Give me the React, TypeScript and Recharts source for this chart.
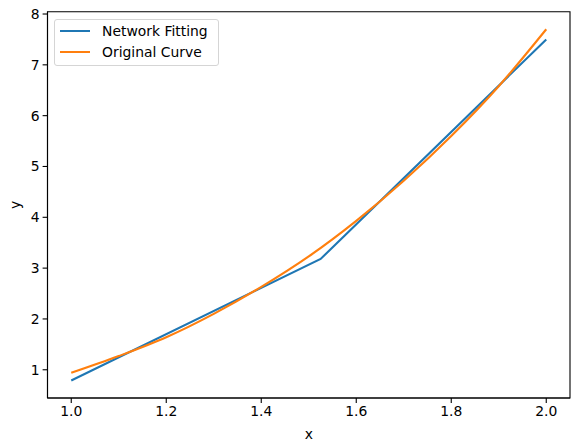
import { LineChart, Line, XAxis, YAxis, Legend, ReferenceArea } from "recharts";

// values
const fitX = [1.0, 1.525, 2.0];
const fitY = [0.79, 3.18, 7.5];

const origX = [1.0, 1.1, 1.2, 1.3, 1.4, 1.5, 1.6, 1.7, 1.8, 1.9, 2.0];
const origY = [0.94, 1.27, 1.64, 2.1, 2.63, 3.23, 3.93, 4.72, 5.6, 6.58, 7.7];

const xTicks = [1.0, 1.2, 1.4, 1.6, 1.8, 2.0];
const yTicks = [1, 2, 3, 4, 5, 6, 7, 8];

const fitData = fitX.map((x, i) => ({ x, y: fitY[i] }));
const origData = origX.map((x, i) => ({ x, y: origY[i] }));

const FONT = "'DejaVu Sans', sans-serif";
const FS = 13.9;

// matplotlib style 5% margins
const allY = [...fitY, ...origY];
const yMin = Math.min(...allY);
const yMax = Math.max(...allY);
const yPad = (yMax - yMin) * 0.05;
const yDomain = [yMin - yPad, yMax + yPad];
const xDomain = [0.95, 2.05];

function LegendBox(props: any) {
  const payload = props.payload || [];
  return (
    <div
      style={{
        width: 163,
        height: 45,
        border: "1px solid #d5d5d5",
        borderRadius: 3,
        background: "rgba(255,255,255,0.8)",
        fontFamily: FONT,
        fontSize: FS,
        color: "#000",
        boxSizing: "content-box",
      }}
    >
      {payload.map((p: any, i: number) => (
        <div
          key={i}
          style={{
            position: "absolute",
            left: 0,
            top: i === 0 ? 3 : 24,
            height: 18,
            display: "flex",
            alignItems: "center",
          }}
        >
          <div style={{ width: 30, height: 2, background: p.color, marginLeft: 6 }} />
          <span style={{ marginLeft: 12, whiteSpace: "nowrap" }}>{p.value}</span>
        </div>
      ))}
    </div>
  );
}

export default function App() {
  return (
    <div style={{ position: "fixed", left: 0, top: 0, background: "#fff" }}>
      <LineChart
        width={572}
        height={441}
        margin={{ top: 11.7, right: 2, bottom: 0, left: 0 }}
        style={{ fontFamily: FONT }}
      >
        <XAxis
          dataKey="x"
          type="number"
          domain={xDomain}
          ticks={xTicks}
          allowDataOverflow
          tickFormatter={(v: number) => v.toFixed(1)}
          tick={{ fill: "#000", fontSize: FS, fontFamily: FONT }}
          tickSize={4.9}
          tickMargin={3}
          stroke="#000"
          strokeWidth={1.1}
          height={43}
          label={{
            content: (lp: any) => {
              const vb = lp.viewBox;
              return (
                <text
                  x={vb.x + vb.width / 2}
                  y={vb.y + 41}
                  textAnchor="middle"
                  fontSize={FS}
                  fontFamily={FONT}
                  fill="#000"
                >
                  x
                </text>
              );
            },
          }}
        />
        <YAxis
          dataKey="y"
          type="number"
          domain={yDomain}
          ticks={yTicks}
          allowDataOverflow
          tick={{ fill: "#000", fontSize: FS, fontFamily: FONT }}
          tickSize={4.9}
          tickMargin={3}
          stroke="#000"
          strokeWidth={1.1}
          width={47.5}
          label={{
            content: (lp: any) => {
              const vb = lp.viewBox;
              const cx = vb.x + 15;
              const cy = vb.y + vb.height / 2;
              return (
                <text
                  x={cx}
                  y={cy}
                  textAnchor="middle"
                  dominantBaseline="central"
                  transform={`rotate(-90 ${cx} ${cy})`}
                  fontSize={FS}
                  fontFamily={FONT}
                  fill="#000"
                >
                  y
                </text>
              );
            },
          }}
        />
        <ReferenceArea
          x1={xDomain[0]}
          x2={xDomain[1]}
          y1={yDomain[0]}
          y2={yDomain[1]}
          fill="none"
          stroke="#000"
          strokeWidth={1.1}
          fillOpacity={0}
          strokeOpacity={1}
        />
        <Line
          data={fitData}
          dataKey="y"
          name="Network Fitting"
          type="linear"
          stroke="#1f77b4"
          strokeWidth={2.1}
          dot={false}
          activeDot={false}
          isAnimationActive={false}
        />
        <Line
          data={origData}
          dataKey="y"
          name="Original Curve"
          type="monotone"
          stroke="#ff7f0e"
          strokeWidth={2.1}
          dot={false}
          activeDot={false}
          isAnimationActive={false}
        />
        <Legend
          layout="vertical"
          align="center"
          verticalAlign="middle"
          content={<LegendBox />}
          wrapperStyle={{ position: "absolute", left: 54, top: 19, width: 165, height: 47 }}
        />
      </LineChart>
    </div>
  );
}
